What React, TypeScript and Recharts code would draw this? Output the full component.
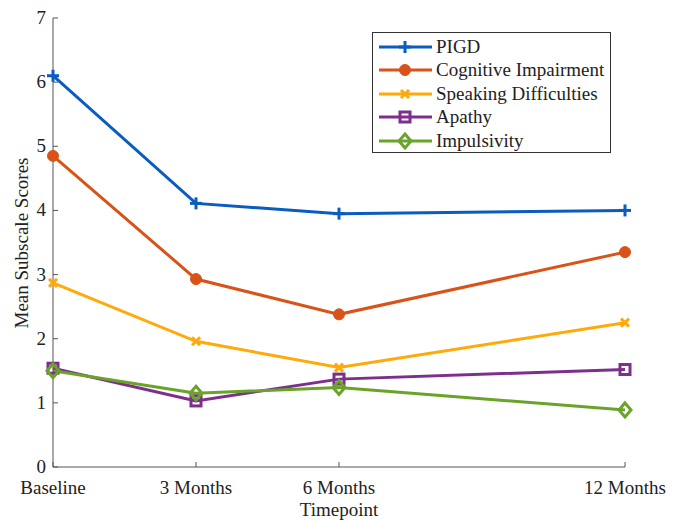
import React from 'react';
import { LineChart, Line, XAxis, YAxis } from 'recharts';

// months since baseline
const months = [0, 3, 6, 12];
const tickLabels = ['Baseline', '3 Months', '6 Months', '12 Months'];
const yTicks = [0, 1, 2, 3, 4, 5, 6, 7];

const pigd = [6.1, 4.11, 3.95, 4.0];
const cognitive = [4.85, 2.93, 2.38, 3.35];
const speaking = [2.87, 1.96, 1.55, 2.25];
const apathy = [1.54, 1.03, 1.37, 1.52];
const impulsivity = [1.5, 1.15, 1.24, 0.89];

const SERIES = [
  { key: 'pigd', name: 'PIGD', color: '#0B5CBF', marker: 'plus', values: pigd },
  { key: 'cognitive', name: 'Cognitive Impairment', color: '#D95319', marker: 'circle', values: cognitive },
  { key: 'speaking', name: 'Speaking Difficulties', color: '#FFAA0A', marker: 'cross', values: speaking },
  { key: 'apathy', name: 'Apathy', color: '#7E2F8E', marker: 'square', values: apathy },
  { key: 'impulsivity', name: 'Impulsivity', color: '#6AA329', marker: 'diamond', values: impulsivity },
];

const data = months.map((m, i) => {
  const row: { [key: string]: number } = { month: m };
  SERIES.forEach(s => { row[s.key] = s.values[i]; });
  return row;
});

const FONT = '"Liberation Serif", "DejaVu Serif", serif';
const AXIS = '#555';
const TEXT = '#222';

const Marker = ({ cx, cy, type, color }: { cx: number; cy: number; type: string; color: string }) => {
  if (cx == null || cy == null) return null;
  switch (type) {
    case 'plus':
      return (
        <g stroke={color} strokeWidth={3}>
          <line x1={cx - 6} y1={cy} x2={cx + 6} y2={cy} />
          <line x1={cx} y1={cy - 6} x2={cx} y2={cy + 6} />
        </g>
      );
    case 'circle':
      return <circle cx={cx} cy={cy} r={5.5} fill={color} stroke={color} />;
    case 'cross':
      return (
        <g stroke={color} strokeWidth={3}>
          <line x1={cx - 4} y1={cy - 4} x2={cx + 4} y2={cy + 4} />
          <line x1={cx - 4} y1={cy + 4} x2={cx + 4} y2={cy - 4} />
        </g>
      );
    case 'square':
      return <rect x={cx - 5} y={cy - 5} width={10} height={10} fill="none" stroke={color} strokeWidth={3} />;
    case 'diamond':
      return (
        <polygon
          points={`${cx},${cy - 7} ${cx + 6},${cy} ${cx},${cy + 7} ${cx - 6},${cy}`}
          fill="none"
          stroke={color}
          strokeWidth={3}
        />
      );
    default:
      return null;
  }
};

const YTick = (props: any) => {
  const { y, payload } = props;
  return (
    <g>
      <line x1={53} y1={y} x2={58} y2={y} stroke={AXIS} />
      <text x={46} y={y} dy={6} textAnchor="end" style={{ fontFamily: FONT, fontSize: 19 }} fill={TEXT}>
        {payload.value}
      </text>
    </g>
  );
};

const XTick = (props: any) => {
  const { x, payload } = props;
  const idx = months.indexOf(payload.value);
  return (
    <g>
      <line x1={x} y1={467} x2={x} y2={462} stroke={AXIS} />
      <text x={x} y={494} textAnchor="middle" style={{ fontFamily: FONT, fontSize: 19 }} fill={TEXT}>
        {tickLabels[idx]}
      </text>
    </g>
  );
};

const LegendBox = () => (
  <div
    style={{
      position: 'absolute',
      left: 372,
      top: 32,
      width: 239,
      height: 121,
      border: '1px solid #333',
      background: '#fff',
      fontFamily: FONT,
      fontSize: 19,
      color: TEXT,
      boxSizing: 'border-box',
      paddingTop: 2,
    }}
  >
    {SERIES.map(s => (
      <div key={s.key} style={{ display: 'flex', alignItems: 'center', height: 23.5 }}>
        <svg width={59} height={20} style={{ marginLeft: 4 }}>
          <line x1={2} y1={10} x2={55} y2={10} stroke={s.color} strokeWidth={3} />
          <Marker cx={28} cy={10} type={s.marker} color={s.color} />
        </svg>
        <span style={{ lineHeight: '20px' }}>{s.name}</span>
      </div>
    ))}
  </div>
);

const App: React.FC = () => (
  <div
    style={{ position: 'absolute', left: 0, top: 0, width: 683, height: 520, background: '#fff', fontFamily: FONT }}
  >
    <LineChart width={683} height={520} data={data} margin={{ top: 18, right: 58, left: 0, bottom: 0 }}>
      <XAxis
        dataKey="month"
        type="number"
        domain={[0, 12]}
        ticks={months}
        height={53}
        axisLine={{ stroke: AXIS }}
        tickLine={false}
        tick={<XTick />}
        interval={0}
        label={() => (
          <text x={339} y={516} textAnchor="middle" style={{ fontFamily: FONT, fontSize: 19 }} fill={TEXT}>
            Timepoint
          </text>
        )}
      />
      <YAxis
        type="number"
        domain={[0, 7]}
        ticks={yTicks}
        width={53}
        axisLine={{ stroke: AXIS }}
        tickLine={false}
        tick={<YTick />}
        interval={0}
        label={() => (
          <text
            x={0}
            y={0}
            transform="translate(28, 243) rotate(-90)"
            textAnchor="middle"
            style={{ fontFamily: FONT, fontSize: 19 }}
            fill={TEXT}
          >
            Mean Subscale Scores
          </text>
        )}
      />
      {SERIES.map(s => (
        <Line
          key={s.key}
          dataKey={s.key}
          name={s.name}
          type="linear"
          stroke={s.color}
          strokeWidth={3}
          isAnimationActive={false}
          dot={(p: any) => <Marker key={`${s.key}-${p.index}`} cx={p.cx} cy={p.cy} type={s.marker} color={s.color} />}
          activeDot={false}
        />
      ))}
    </LineChart>
    <LegendBox />
  </div>
);

export default App;
